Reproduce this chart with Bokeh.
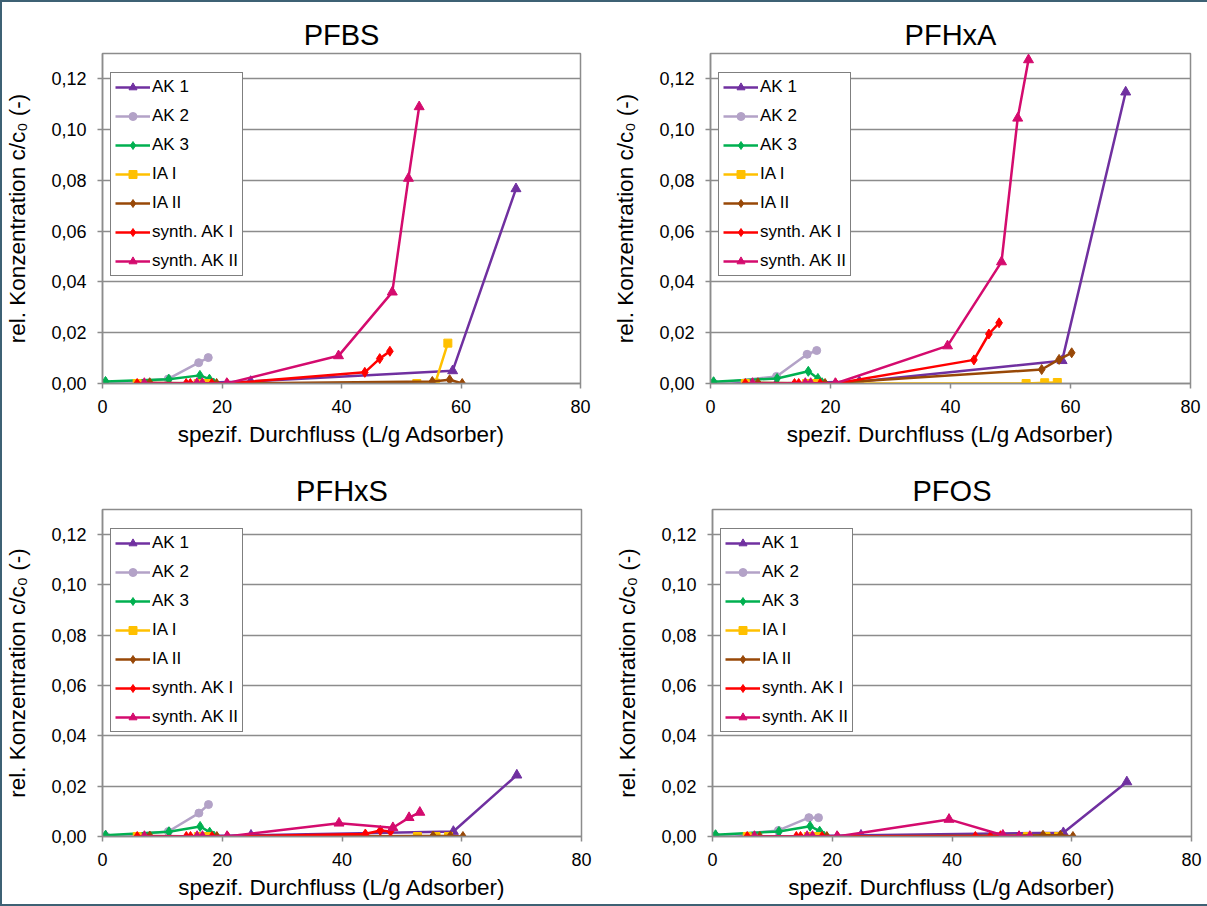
from bokeh.plotting import figure
from bokeh.models import Range1d, FixedTicker, CustomJSTickFormatter, Legend, LegendItem
from bokeh.layouts import column, row
from bokeh.embed import file_html
from bokeh.resources import INLINE

# ---------------- data ----------------
series_names = ["AK 1", "AK 2", "AK 3", "IA I", "IA II", "synth. AK I", "synth. AK II"]

x_ak1 = [0.6, 11.0, 24.8, 58.6, 69.2]
x_ak2 = [0.6, 11.0, 16.1, 17.7]
x_ak3 = [0.5, 11.1, 16.3, 17.9, 18.6]
x_ia1 = [5.8, 16.0, 17.4, 52.6, 55.7, 57.8]
x_ia2 = [7.9, 19.1, 55.2, 58.1, 60.2]
x_sak1 = [5.8, 14.0, 14.7, 18.3, 20.9, 43.9, 46.4, 48.1]
x_sak2 = [7.0, 15.8, 16.7, 20.8, 39.5, 48.5, 51.2, 53.0]

# PFBS
pfbs_ak1 = [0.0, 0.0, 0.0008, 0.0050, 0.0767]
pfbs_ak2 = [0.0, 0.0018, 0.0082, 0.0102]
pfbs_ak3 = [0.0008, 0.0017, 0.0032, 0.0017, 0.0002]
pfbs_ia1 = [0.0, 0.0, 0.0, 0.0, 0.0002, 0.0159]
pfbs_ia2 = [0.0003, 0.0, 0.0008, 0.0015, 0.0]
pfbs_sak1 = [0.0, 0.0, 0.0, 0.0, 0.0, 0.0044, 0.0098, 0.0127]
pfbs_sak2 = [0.0, 0.0, 0.0, 0.0, 0.0109, 0.0360, 0.0808, 0.1090]

# PFHxA
pfhxa_ak1 = [0.0, 0.0, 0.0008, 0.0090, 0.1148]
pfhxa_ak2 = [0.0, 0.0028, 0.0115, 0.0130]
pfhxa_ak3 = [0.0007, 0.0020, 0.0048, 0.0020, 0.0003]
pfhxa_ia1 = [0.0, 0.0, 0.0, 0.0, 0.0003, 0.0004]
pfhxa_ia2 = [0.0003, 0.0, 0.0055, 0.0095, 0.0121]
pfhxa_sak1 = [0.0, 0.0, 0.0, 0.0, 0.0, 0.0093, 0.0195, 0.0239]
pfhxa_sak2 = [0.0, 0.0, 0.0, 0.0, 0.0148, 0.0479, 0.1045, 0.1275]

# PFHxS
pfhxs_ak1 = [0.0, 0.0, 0.0005, 0.0020, 0.0244]
pfhxs_ak2 = [0.0, 0.0020, 0.0093, 0.0127]
pfhxs_ak3 = [0.0005, 0.0019, 0.0040, 0.0017, 0.0002]
pfhxs_ia1 = [0.0, 0.0, 0.0, 0.0, 0.0, 0.0]
pfhxs_ia2 = [0.0002, 0.0, 0.0002, 0.0002, 0.0]
pfhxs_sak1 = [0.0, 0.0, 0.0, 0.0, 0.0, 0.0010, 0.0024, 0.0020]
pfhxs_sak2 = [0.0, 0.0, 0.0, 0.0, 0.0053, 0.0035, 0.0075, 0.0096]

# PFOS
pfos_ak1 = [0.0, 0.0, 0.0005, 0.0015, 0.0217]
pfos_ak2 = [0.0, 0.0024, 0.0075, 0.0075]
pfos_ak3 = [0.0007, 0.0020, 0.0041, 0.0021, 0.0002]
pfos_ia1 = [0.0, 0.0, 0.0, 0.0, 0.0, 0.0]
pfos_ia2 = [0.0, 0.0, 0.0005, 0.0005, 0.0]
pfos_sak1 = [0.0, 0.0, 0.0, 0.0, 0.0, 0.0, 0.0, 0.0003]
pfos_sak2 = [0.0, 0.0, 0.0, 0.0, 0.0068, 0.0005, 0.0, 0.0]

x_ticks = [0, 20, 40, 60, 80]
y_ticks = [0.0, 0.02, 0.04, 0.06, 0.08, 0.10, 0.12]

colors = ["#7030a0", "#b3a2c7", "#00b050", "#ffc000", "#984807", "#ff0000", "#d40b6e"]
markers = ["triangle", "circle", "diamond", "square", "diamond", "diamond", "triangle"]
msizes = [10, 8, 10, 8, 10, 10, 10]
xs_all = [x_ak1, x_ak2, x_ak3, x_ia1, x_ia2, x_sak1, x_sak2]

FONT = "Liberation Sans"
GRID = "#8c8c8c"


def make_panel(title, ys_all, width, height, left, right, top, bottom):
    p = figure(width=width, height=height, output_backend="svg", toolbar_location=None,
               x_range=Range1d(0, 80), y_range=Range1d(0, 0.13),
               min_border_left=left, min_border_right=right,
               min_border_top=top, min_border_bottom=bottom)
    p.title.text = title
    p.title.align = "center"
    p.title.text_font = FONT
    p.title.text_font_size = "29px"
    p.title.text_font_style = "normal"
    p.title.text_color = "#000000"
    p.title.offset = 0
    p.title.standoff = 5

    p.outline_line_color = GRID
    p.outline_line_width = 1.5
    p.xgrid.visible = False
    p.ygrid.grid_line_color = GRID
    p.ygrid.grid_line_width = 1.5
    p.ygrid.ticker = FixedTicker(ticks=y_ticks)
    p.background_fill_color = "white"
    p.border_fill_color = "white"

    p.xaxis.ticker = FixedTicker(ticks=x_ticks)
    p.yaxis.ticker = FixedTicker(ticks=y_ticks)
    p.yaxis.formatter = CustomJSTickFormatter(code="return tick.toFixed(2).replace('.', ',');")
    for ax in (p.xaxis[0], p.yaxis[0]):
        ax.axis_line_color = GRID
        ax.axis_line_width = 1.5
        ax.major_tick_line_color = GRID
        ax.major_tick_line_width = 1.5
        ax.major_tick_out = 5
        ax.major_tick_in = 0
        ax.minor_tick_line_color = None
        ax.major_label_text_font = FONT
        ax.major_label_text_font_size = "18px"
        ax.major_label_text_color = "#000000"
        ax.major_label_standoff = 11
        ax.axis_label_text_font = FONT
        ax.axis_label_text_font_size = "22.5px"
        ax.axis_label_text_font_style = "normal"
        ax.axis_label_text_color = "#000000"
    p.xaxis.axis_label = "spezif. Durchfluss (L/g Adsorber)"
    p.xaxis.axis_label_standoff = 6
    p.yaxis.axis_label = "rel. Konzentration c/c\u2080 (-)"
    p.yaxis.axis_label_standoff = 18

    items = []
    for name, xs, ys, c, m, s in zip(series_names, xs_all, ys_all, colors, markers, msizes):
        lr = p.line(xs, ys, line_color=c, line_width=2.5)
        sr = p.scatter(xs, ys, marker=m, size=s, fill_color=c, line_color=c)
        items.append(LegendItem(label=name, renderers=[lr, sr]))

    plot_h = height - top - bottom
    leg = Legend(items=items, location=(8, plot_h - 22 - 201),
                 label_text_font=FONT, label_text_font_size="17px",
                 label_text_color="#000000",
                 glyph_width=35, glyph_height=20, label_height=20,
                 spacing=9, padding=4, margin=0, label_standoff=2,
                 border_line_color="#000000", border_line_width=1,
                 background_fill_color="white", background_fill_alpha=1.0)
    p.add_layout(leg, "center")
    return p


p1 = make_panel("PFBS", [pfbs_ak1, pfbs_ak2, pfbs_ak3, pfbs_ia1, pfbs_ia2, pfbs_sak1, pfbs_sak2],
                601, 451, 96, 23, 51, 70)
p2 = make_panel("PFHxA", [pfhxa_ak1, pfhxa_ak2, pfhxa_ak3, pfhxa_ia1, pfhxa_ia2, pfhxa_sak1, pfhxa_sak2],
                604, 451, 107, 17, 51, 70)
p3 = make_panel("PFHxS", [pfhxs_ak1, pfhxs_ak2, pfhxs_ak3, pfhxs_ia1, pfhxs_ia2, pfhxs_sak1, pfhxs_sak2],
                601, 451, 97, 22, 56, 68)
p4 = make_panel("PFOS", [pfos_ak1, pfos_ak2, pfos_ak3, pfos_ia1, pfos_ia2, pfos_sak1, pfos_sak2],
                604, 451, 109, 16, 56, 68)

layout = column(row(p1, p2), row(p3, p4),
                styles={"border-top": "2px solid #3d6174", "border-left": "2px solid #3d6174",
                        "border-bottom": "2px solid #3d6174"})

open("out.html", "w").write(file_html(layout, INLINE))
